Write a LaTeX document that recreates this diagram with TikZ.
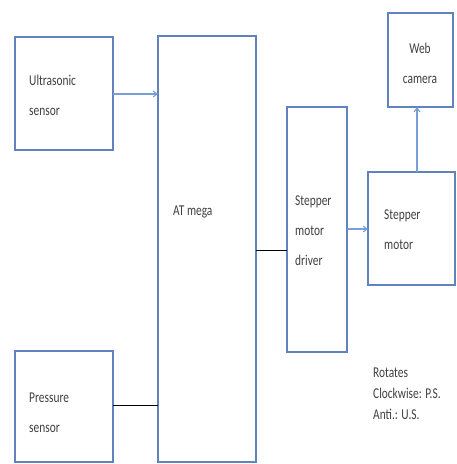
\documentclass[tikz,border=0pt]{standalone}
\usepackage{fontspec}
\setmainfont{Carlito}[FakeStretch=0.76]
\usetikzlibrary{arrows.meta}
\definecolor{boxblue}{RGB}{96,130,190}
\definecolor{arrblue}{RGB}{120,160,215}
\tikzset{
  blk/.style={draw=boxblue, line width=1.6pt, fill=white},
  lbl/.style={font=\fontsize{15}{30}\selectfont, align=left, inner sep=0pt, anchor=west, text=black!75},
  arr/.style={draw=arrblue, line width=1.1pt, -{Straight Barb[length=4pt,width=6pt]}},
  wire/.style={draw=black, line width=1pt}
}
\begin{document}
\begin{tikzpicture}[x=1pt,y=-1pt]
\useasboundingbox (0,0) rectangle (457,464);
% boxes
\draw[blk] (15,37) rectangle (113,150);
\draw[blk] (158,36) rectangle (256,462);
\draw[blk] (15,351) rectangle (113,462);
\draw[blk] (287,107) rectangle (347,352);
\draw[blk] (368,172) rectangle (455,285);
\draw[blk] (388,13) rectangle (453,107);
% anchors
\coordinate (us) at (113,94);
\coordinate (atin) at (158,94);
\coordinate (ps) at (113,405);
\coordinate (atin2) at (158,405);
\coordinate (atout) at (256,250);
\coordinate (drvin) at (287,250);
\coordinate (drvout) at (347,229);
\coordinate (motin) at (368,229);
\coordinate (mottop) at (417,172);
\coordinate (cambot) at (417,107);
% labels
\node[lbl] (tus) at (29,95) {Ultrasonic\\sensor};
\node[lbl] (tat) at (173,212) {AT mega};
\node[lbl] (tps) at (29,413) {Pressure\\sensor};
\node[lbl] (tdrv) at (295,231) {Stepper\\motor\\driver};
\node[lbl] (tmot) at (384,230) {Stepper\\motor};
\node[lbl, align=center, anchor=center] (tcam) at (420,63) {Web\\camera};
\node[lbl, font=\fontsize{15}{21}\selectfont] (trot) at (373,394) {Rotates\\Clockwise: P.S.\\Anti.: U.S.};
% connectors
\draw[arr] (us) -- (atin);
\draw[wire] (ps) -- (atin2);
\draw[wire] (atout) -- (drvin);
\draw[arr] (drvout) -- (motin);
\draw[arr] (mottop) -- (cambot);
\end{tikzpicture}
\end{document}
